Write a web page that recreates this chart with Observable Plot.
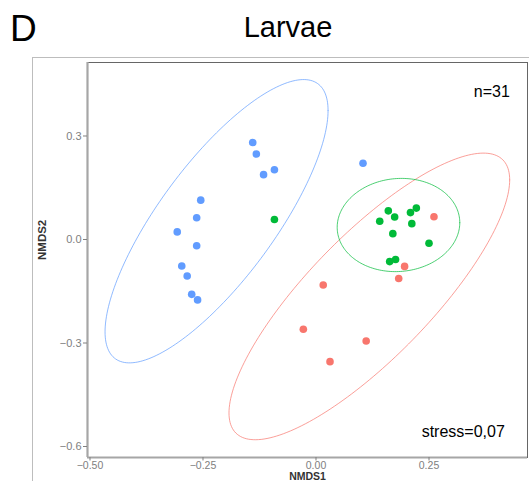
<!DOCTYPE html>
<html>
<head>
<meta charset="utf-8">
<script src="https://cdn.jsdelivr.net/npm/d3@7"></script>
<script src="https://cdn.jsdelivr.net/npm/@observablehq/plot@0.6"></script>
<style>
html, body { margin: 0; padding: 0; background: #fff; overflow: hidden; width: 529px; height: 481px; }
#wrap { position: relative; width: 529px; height: 481px; overflow: hidden; font-family: "Liberation Sans", Arial, sans-serif; }
#letter { position: absolute; left: 10px; top: 9.7px; font-size: 37px; line-height: 1; color: #000; }
#title { position: absolute; left: 188px; width: 200px; top: 13.2px; font-size: 29px; line-height: 1; text-align: center; color: #000; }
#box { position: absolute; left: 32px; top: 57px; width: 620px; height: 620px; border: 1px solid #bdbdbd; }
#chart { position: absolute; left: 0; top: 56px; }
</style>
</head>
<body>
<div id="wrap">
  <div id="box"></div>
  <div id="letter">D</div>
  <div id="title">Larvae</div>
  <div id="chart"></div>
</div>
<script>
// ---- data ----
const groupNames = ["G1", "G2", "G3"];
const groupColors = ["#F8766D", "#00BA38", "#619CFF"];

const pointGroup = [
  "G3","G3","G3","G3","G3","G3","G3","G3","G3","G3","G3","G3","G3",
  "G2","G2","G2","G2","G2","G2","G2","G2","G2","G2","G2",
  "G1","G1","G1","G1","G1","G1","G1"
];
const nmds1 = [
  -0.140, -0.132, -0.116, -0.092, -0.255, -0.264, -0.307, -0.264, -0.297, -0.285, -0.275, -0.262, 0.104,
  -0.092, 0.160, 0.174, 0.141, 0.209, 0.222, 0.212, 0.170, 0.250, 0.163, 0.176,
  0.261, 0.196, 0.183, 0.016, -0.028, 0.111, 0.031
];
const nmds2 = [
  0.281, 0.248, 0.188, 0.202, 0.114, 0.063, 0.022, -0.018, -0.077, -0.106, -0.159, -0.175, 0.221,
  0.058, 0.083, 0.065, 0.053, 0.078, 0.091, 0.046, 0.017, -0.011, -0.064, -0.058,
  0.066, -0.078, -0.113, -0.132, -0.260, -0.294, -0.354
];

// ellipse parameters (centre, half-extents, correlation) per group
const ellipseGroup = ["G3", "G1", "G2"];
const ellipseCx = [-0.220, 0.118, 0.1825];
const ellipseCy = [0.053, -0.165, 0.042];
const ellipseSx = [0.2467, 0.3105, 0.1356];
const ellipseSy = [0.4106, 0.4154, 0.1351];
const ellipseR  = [0.781, 0.813, 0.05];

const xTickValues = [-0.5, -0.25, 0, 0.25];
const xTickLabels = ["\u22120.50", "\u22120.25", "0.00", "0.25"];
const yTickValues = [0.3, 0, -0.3, -0.6];
const yTickLabels = ["0.3", "0.0", "\u22120.3", "\u22120.6"];

const xDomain = [-0.50553, 0.46792];
const yDomain = [-0.63188, 0.51304];

// ---- build tables ----
const points = nmds1.map((x, i) => ({x, y: nmds2[i], group: pointGroup[i]}));

const ellipsePts = [];
ellipseGroup.forEach((g, k) => {
  const s = Math.sqrt(1 - ellipseR[k] * ellipseR[k]);
  for (let i = 0; i <= 200; i++) {
    const t = (2 * Math.PI * i) / 200;
    ellipsePts.push({
      group: g,
      x: ellipseCx[k] + ellipseSx[k] * Math.cos(t),
      y: ellipseCy[k] + ellipseSy[k] * (ellipseR[k] * Math.cos(t) + s * Math.sin(t))
    });
  }
});

const axisColor = "#808080";

const chart = Plot.plot({
  width: 529,
  height: 425,
  marginLeft: 87,
  marginRight: 2,
  marginTop: 6,
  marginBottom: 24,
  style: {background: "transparent", fontFamily: "Liberation Sans, Arial, sans-serif", fontSize: "11px"},
  x: {domain: xDomain},
  y: {domain: yDomain},
  color: {domain: groupNames, range: groupColors},
  marks: [
    Plot.frame({stroke: "#666", strokeWidth: 1}),
    Plot.ruleX([xDomain[0]], {stroke: "#a6a6a6", strokeWidth: 2.2}),
    Plot.ruleY([yDomain[0]], {stroke: "#a6a6a6", strokeWidth: 2.2}),
    Plot.line(ellipsePts, {x: "x", y: "y", z: "group", stroke: "group", strokeWidth: 1, strokeOpacity: 0.7}),
    Plot.dot(points, {x: "x", y: "y", fill: "group", r: 3.8}),
    Plot.axisX({ticks: xTickValues, tickFormat: (d) => xTickLabels[xTickValues.indexOf(d)], tickSize: 3.5, tickPadding: 1, label: null, color: axisColor, fontSize: 10.5}),
    Plot.axisY({ticks: yTickValues, tickFormat: (d) => yTickLabels[yTickValues.indexOf(d)], tickSize: 4, tickPadding: 2, label: null, color: axisColor, fontSize: 11}),
    Plot.text(["NMDS1"], {frameAnchor: "bottom", dy: 15.5, lineAnchor: "top", fontWeight: "bold", fontSize: 10.5, fill: "#333"}),
    Plot.text(["NMDS2"], {frameAnchor: "left", dx: -45, rotate: -90, lineAnchor: "middle", fontWeight: "bold", fontSize: 11.5, fill: "#333"}),
    Plot.text(["n=31"], {frameAnchor: "top-right", textAnchor: "end", lineAnchor: "bottom", dx: -17.7, dy: 34.7, fontSize: 16, fill: "#000"}),
    Plot.text(["stress=0,07"], {frameAnchor: "bottom-right", textAnchor: "end", lineAnchor: "bottom", dx: -22.7, dy: -20.3, fontSize: 16, fill: "#000"})
  ]
});

document.getElementById("chart").appendChild(chart);
</script>
</body>
</html>
